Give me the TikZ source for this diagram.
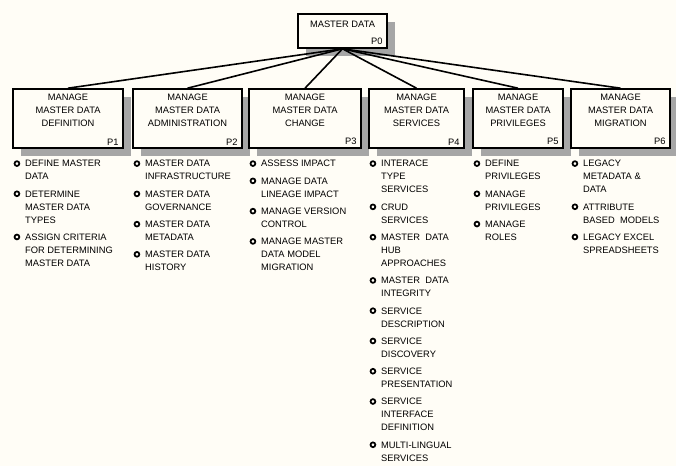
\documentclass[tikz,border=0pt]{standalone}
\usepackage{fontspec}
\setmainfont{Liberation Sans}
\usepackage{tikz}
\usetikzlibrary{positioning, calc, shadows}
\definecolor{chartPaper}{HTML}{FFFDF6}
\definecolor{chartInk}{HTML}{000000}
\definecolor{chartShade}{HTML}{A6A6A6}
\newcommand{\chartfont}{\fontsize{7}{9.75}\selectfont}
\tikzset{
  procbox/.style={draw=chartInk, line width=1.2pt, fill=chartPaper, inner sep=0pt,
    drop shadow={shadow xshift=6pt, shadow yshift=-6pt, fill=chartShade, opacity=1}},
  proctitle/.style={font=\chartfont, align=center, inner sep=0pt, text=chartInk},
  procnum/.style={font=\chartfont, inner sep=0pt, text=chartInk},
  tasktext/.style={font=\chartfont, align=left, inner sep=0pt, text=chartInk},
  taskdot/.style={circle, draw=chartInk, line width=1.3pt, inner sep=0pt, minimum size=3.6pt},
  link/.style={draw=chartInk, line width=1.2pt}
}
% #1 name, #2 x, #3 y, #4 width, #5 height, #6 title, #7 number, #8 title gap
\newcommand{\procbox}[8]{%
  \node[procbox, minimum width=#4*0.75pt, minimum height=#5*0.75pt] (#1) at (#2,#3) {};
  \node[proctitle, below=#8 of #1.north] (#1-title) {#6};
  \node[procnum, anchor=south east] (#1-num) at ($(#1.south east)+(-5,-3.5)$) {#7};}
% #1 box name, #2 items
\newcommand{\tasklist}[2]{%
  \node[inner sep=0pt, minimum size=0pt] (#1-l0) at ($(#1.south west)+(13,1)$) {};
  \foreach \t [count=\i, remember=\i as \j (initially 0)] in {#2} {
    \node[tasktext, below=7.6pt of #1-l\j.south west, anchor=north west] (#1-l\i) {\t};
    \node[taskdot] (#1-d\i) at ($(#1-l\i.north west)+(-8,3.4)$) {};
  }}

\begin{document}
\begin{tikzpicture}[x=0.75pt, y=-0.75pt]
  \path[fill=chartPaper, use as bounding box] (0,0) rectangle (676,466);
  % ---- process boxes ----
  \procbox{p0}{342.5}{31}{89}{34}{MASTER DATA}{P0}{5.6pt}
  \procbox{p1}{68}{118.5}{110}{59}{MANAGE\\MASTER DATA\\DEFINITION}{P1}{4pt}
  \procbox{p2}{187.5}{118.5}{109}{59}{MANAGE\\MASTER DATA\\ADMINISTRATION}{P2}{4pt}
  \procbox{p3}{305}{118.5}{112}{59}{MANAGE\\MASTER DATA\\CHANGE}{P3}{4pt}
  \procbox{p4}{416.5}{118.5}{95}{59}{MANAGE\\MASTER DATA\\SERVICES}{P4}{4pt}
  \procbox{p5}{518}{118.5}{90}{59}{MANAGE\\MASTER DATA\\PRIVILEGES}{P5}{4pt}
  \procbox{p6}{620.5}{118.5}{99}{59}{MANAGE\\MASTER DATA\\MIGRATION}{P6}{4pt}
  % ---- links ----
  \foreach \k in {1,...,6}
    \draw[link] (p0.south) -- (p\k.north);
  % ---- task lists ----
  \tasklist{p1}{{DEFINE MASTER\\DATA}, {DETERMINE\\MASTER DATA\\TYPES},
    {ASSIGN CRITERIA\\FOR DETERMINING\\MASTER DATA}}
  \tasklist{p2}{{MASTER DATA\\INFRASTRUCTURE}, {MASTER DATA\\GOVERNANCE},
    {MASTER DATA\\METADATA}, {MASTER DATA\\HISTORY}}
  \tasklist{p3}{{ASSESS IMPACT}, {MANAGE DATA\\LINEAGE IMPACT},
    {MANAGE VERSION\\CONTROL}, {MANAGE MASTER\\DATA MODEL\\MIGRATION}}
  \tasklist{p4}{{INTERACE\\TYPE\\SERVICES}, {CRUD\\SERVICES},
    {MASTER~~DATA\\HUB\\APPROACHES}, {MASTER~~DATA\\INTEGRITY},
    {SERVICE\\DESCRIPTION}, {SERVICE\\DISCOVERY}, {SERVICE\\PRESENTATION},
    {SERVICE\\INTERFACE\\DEFINITION}, {MULTI-LINGUAL\\SERVICES}}
  \tasklist{p5}{{DEFINE\\PRIVILEGES}, {MANAGE\\PRIVILEGES}, {MANAGE\\ROLES}}
  \tasklist{p6}{{LEGACY\\METADATA \&\\DATA}, {ATTRIBUTE\\BASED~~MODELS},
    {LEGACY EXCEL\\SPREADSHEETS}}
\end{tikzpicture}
\end{document}
